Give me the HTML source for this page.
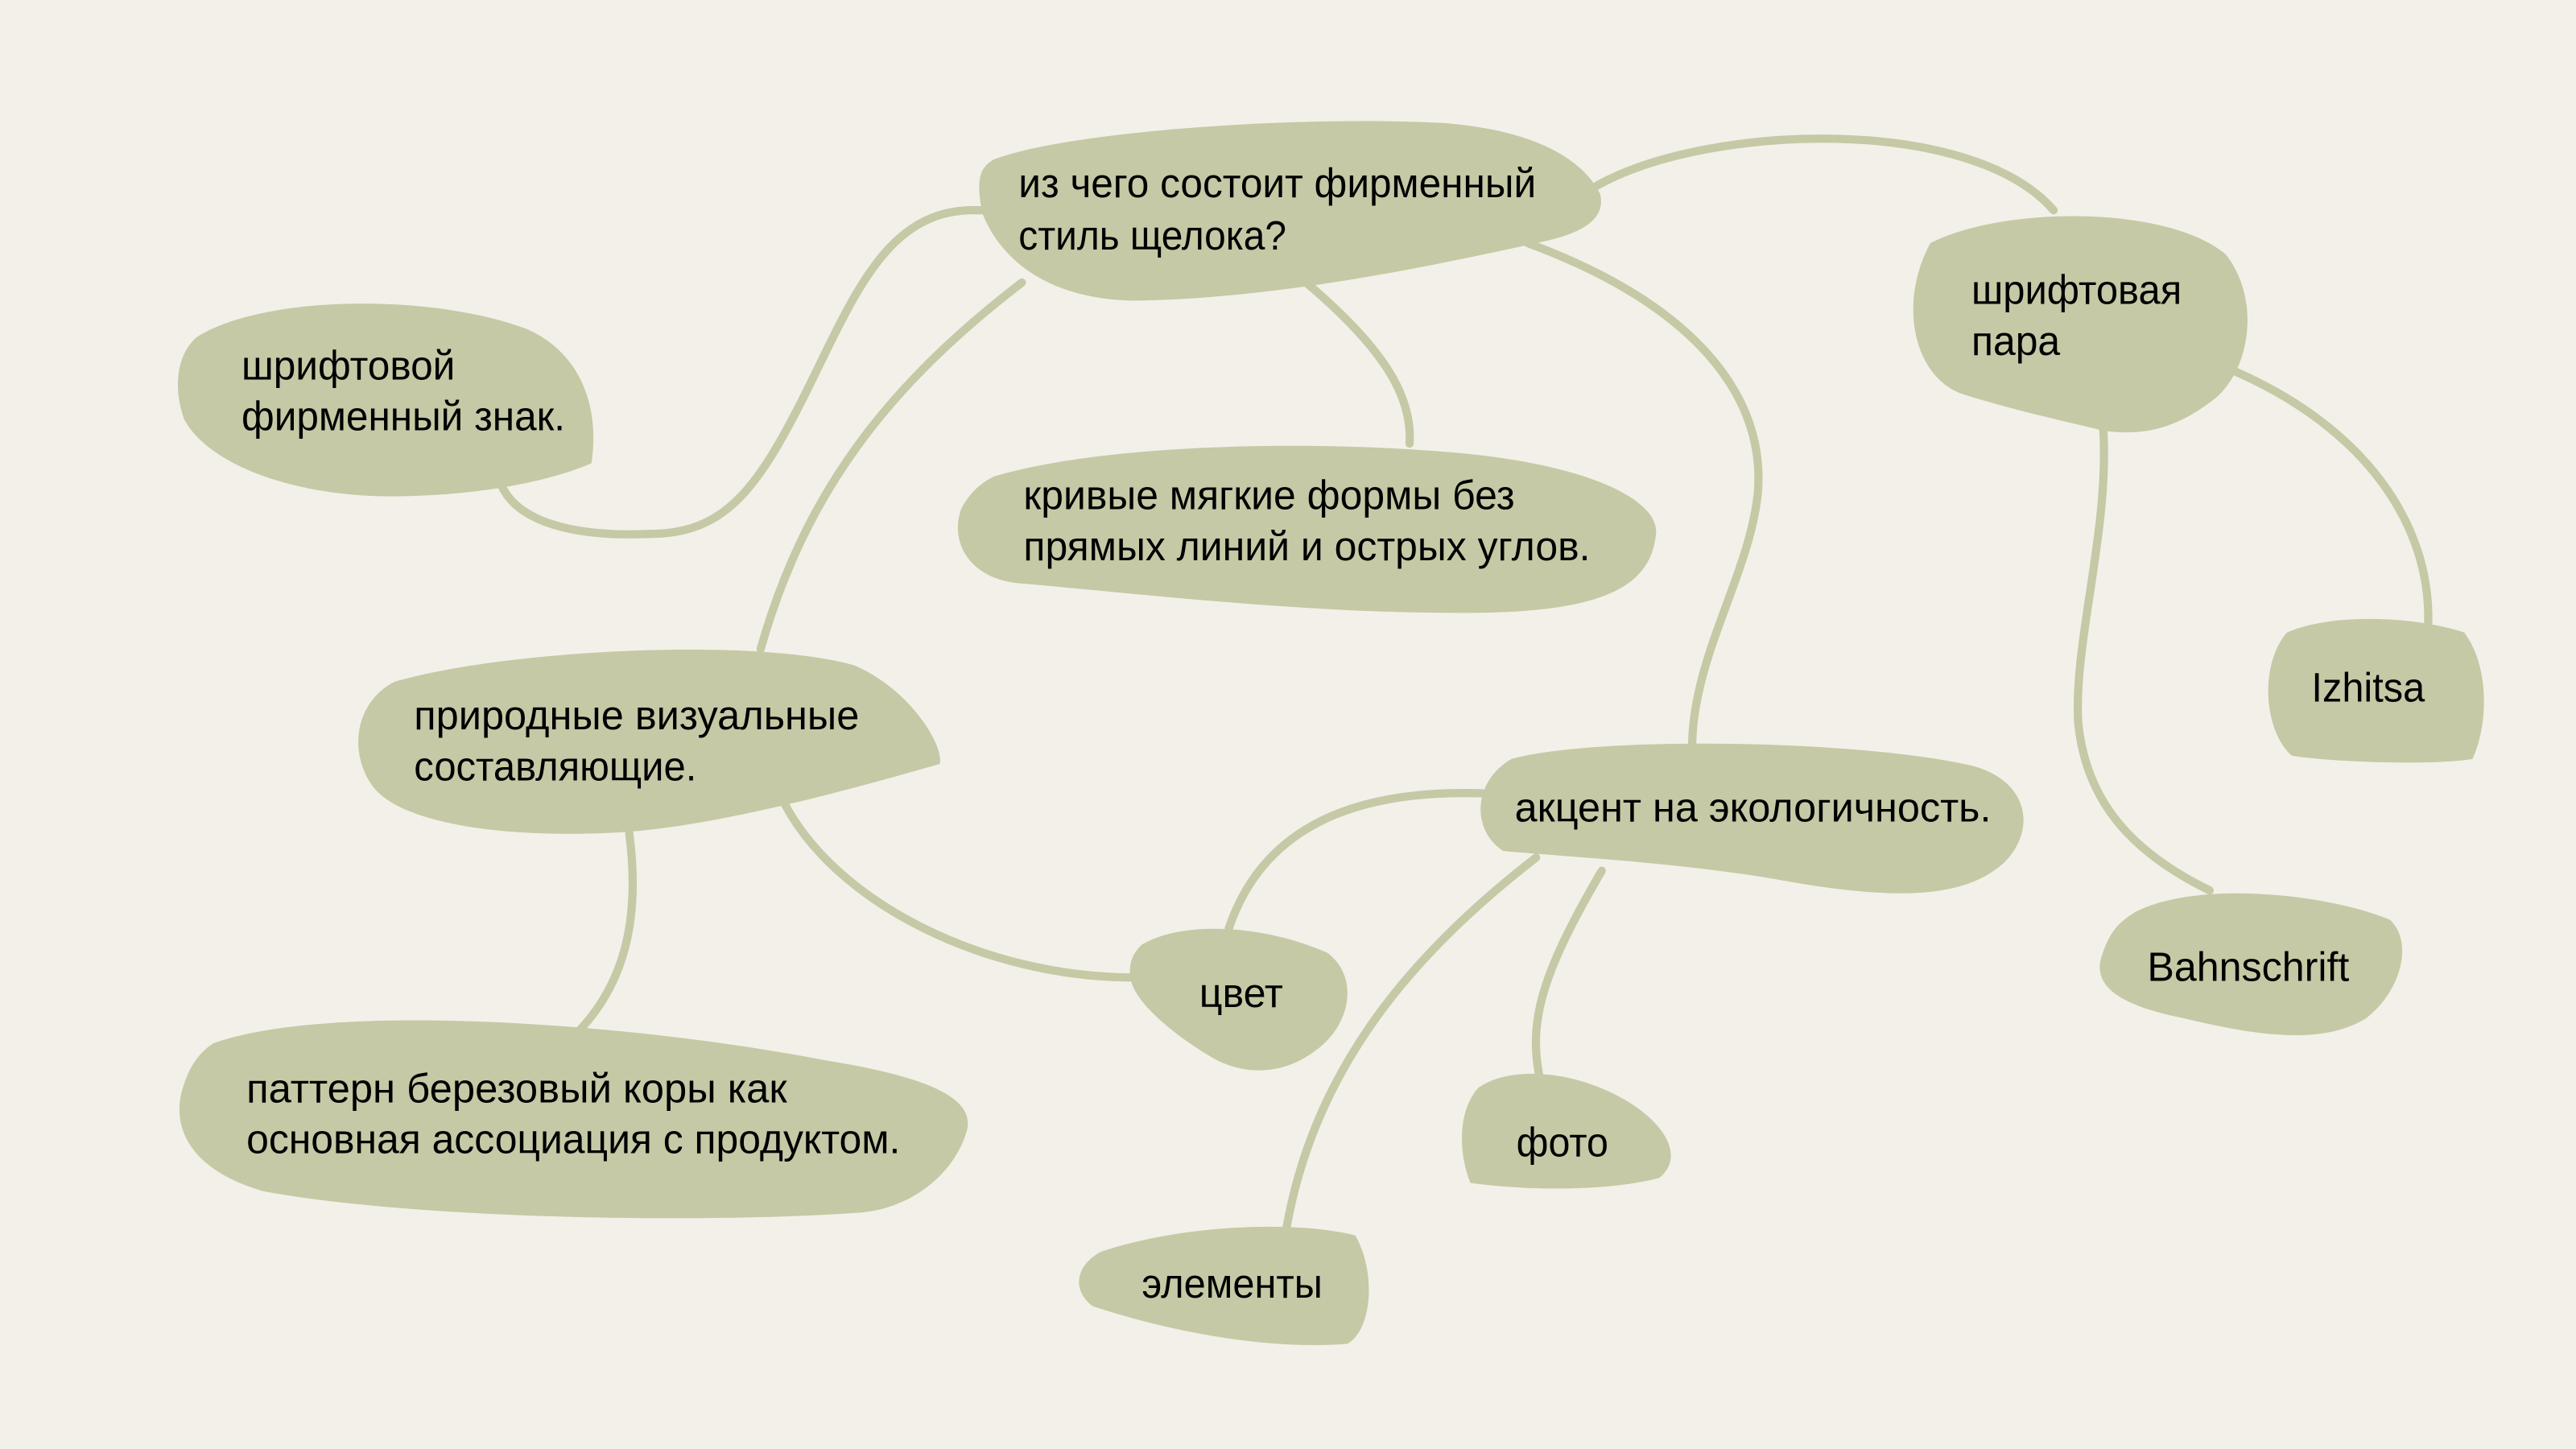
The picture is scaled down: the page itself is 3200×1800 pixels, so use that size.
<!DOCTYPE html>
<html><head><meta charset="utf-8"><style>
html,body{margin:0;padding:0;background:#f3f0e9;}
svg{display:block;}
text{font-family:"Liberation Sans","DejaVu Sans",sans-serif;font-size:25px;fill:#000;}
</style></head><body>
<svg width="3200" height="1800" viewBox="0 0 1568 882" xmlns="http://www.w3.org/2000/svg">
<rect width="1568" height="882" fill="#f3f0e9"/>
<g fill="none" stroke="#c5c9a5" stroke-width="5" stroke-linecap="round">
<path d="M597,128 C540,125 520,180 490,240 C460,300 440,325 395,325 C350,327 315,318 305,295"/>
<path d="M622,172 C540,235 490,300 463,395"/>
<path d="M795,172 C840,210 860,240 858,270"/>
<path d="M930,148 C1030,185 1075,240 1070,300 C1065,350 1030,400 1030,455"/>
<path d="M972,113 C1040,75 1200,70 1250,128"/>
<path d="M1358,225 C1440,260 1480,320 1478,380"/>
<path d="M1280,258 C1285,320 1262,390 1265,440 C1270,490 1300,520 1345,542"/>
<path d="M478,490 C510,550 600,595 690,595"/>
<path d="M383,507 C390,560 380,600 350,630"/>
<path d="M905,483 C830,480 770,500 748,565"/>
<path d="M935,522 C860,580 800,650 783,748"/>
<path d="M975,530 C940,590 930,620 937,655"/>
</g>
<g fill="#c5c9a5">
<path d="M605,97 C650,80 790,70 880,75 C940,80 965,100 974,118 C978,135 960,143 935,148 C880,160 780,182 690,183 C640,182 610,160 598,130 C594,110 596,102 605,97 Z"/>
<path d="M120,205 C160,180 260,178 320,200 C355,215 365,250 360,282 C330,295 280,303 230,302 C170,300 125,280 112,255 C105,235 108,215 120,205 Z"/>
<path d="M1175,148 C1220,125 1320,125 1355,155 C1378,185 1368,230 1345,245 C1325,260 1305,266 1280,262 C1250,255 1220,248 1195,240 C1165,230 1155,185 1175,148 Z"/>
<path d="M605,290 C680,268 820,268 900,277 C970,285 1010,305 1008,325 C1005,355 980,372 900,373 C800,374 700,362 620,355 C590,352 578,330 585,310 C590,300 597,294 605,290 Z"/>
<path d="M240,415 C310,395 460,388 520,405 C555,420 575,455 572,465 C520,480 430,505 370,507 C300,510 245,500 228,480 C212,460 215,428 240,415 Z"/>
<path d="M1392,385 C1420,373 1470,375 1500,385 C1515,405 1515,440 1505,462 C1480,466 1420,464 1395,460 C1378,445 1375,405 1392,385 Z"/>
<path d="M920,462 C970,448 1130,450 1200,466 C1235,475 1240,505 1220,525 C1195,548 1150,548 1080,535 C1020,525 960,522 915,518 C895,505 897,475 920,462 Z"/>
<path d="M695,575 C720,560 770,563 808,580 C828,595 822,625 800,640 C780,655 755,655 735,642 C715,630 690,610 688,595 C687,585 690,580 695,575 Z"/>
<path d="M1300,555 C1340,535 1420,545 1455,560 C1470,575 1460,605 1440,620 C1415,635 1380,632 1330,620 C1290,612 1272,600 1280,580 C1285,565 1292,560 1300,555 Z"/>
<path d="M130,635 C200,610 380,622 500,645 C570,656 595,670 588,690 C580,715 555,735 525,738 C430,745 250,742 160,725 C115,712 103,685 112,660 C116,648 122,640 130,635 Z"/>
<path d="M900,662 C920,648 960,652 990,670 C1015,685 1025,705 1010,717 C980,725 930,725 895,720 C887,700 888,675 900,662 Z"/>
<path d="M670,762 C720,745 790,743 825,752 C838,775 835,810 820,818 C770,822 710,810 665,795 C652,785 655,770 670,762 Z"/>
</g>
<g>
<text x="620" y="120" textLength="315" lengthAdjust="spacingAndGlyphs">из чего состоит фирменный</text>
<text x="620" y="152" textLength="163" lengthAdjust="spacingAndGlyphs">стиль щелока?</text>
<text x="147" y="231" textLength="130" lengthAdjust="spacingAndGlyphs">шрифтовой</text>
<text x="147" y="262" textLength="197" lengthAdjust="spacingAndGlyphs">фирменный знак.</text>
<text x="1200" y="185" textLength="128" lengthAdjust="spacingAndGlyphs">шрифтовая</text>
<text x="1200" y="216" textLength="54" lengthAdjust="spacingAndGlyphs">пара</text>
<text x="623" y="310" textLength="299" lengthAdjust="spacingAndGlyphs">кривые мягкие формы без</text>
<text x="623" y="341" textLength="345" lengthAdjust="spacingAndGlyphs">прямых линий и острых углов.</text>
<text x="252" y="444" textLength="271" lengthAdjust="spacingAndGlyphs">природные визуальные</text>
<text x="252" y="475" textLength="172" lengthAdjust="spacingAndGlyphs">составляющие.</text>
<text x="1407" y="427" textLength="69" lengthAdjust="spacingAndGlyphs">Izhitsa</text>
<text x="922" y="500" textLength="290" lengthAdjust="spacingAndGlyphs">акцент на экологичность.</text>
<text x="730" y="613" textLength="51" lengthAdjust="spacingAndGlyphs">цвет</text>
<text x="1307" y="597" textLength="123" lengthAdjust="spacingAndGlyphs">Bahnschrift</text>
<text x="150" y="671" textLength="329" lengthAdjust="spacingAndGlyphs">паттерн березовый коры как</text>
<text x="150" y="702" textLength="398" lengthAdjust="spacingAndGlyphs">основная ассоциация с продуктом.</text>
<text x="923" y="704" textLength="56" lengthAdjust="spacingAndGlyphs">фото</text>
<text x="695" y="790" textLength="110" lengthAdjust="spacingAndGlyphs">элементы</text>
</g>
</svg>
</body></html>
